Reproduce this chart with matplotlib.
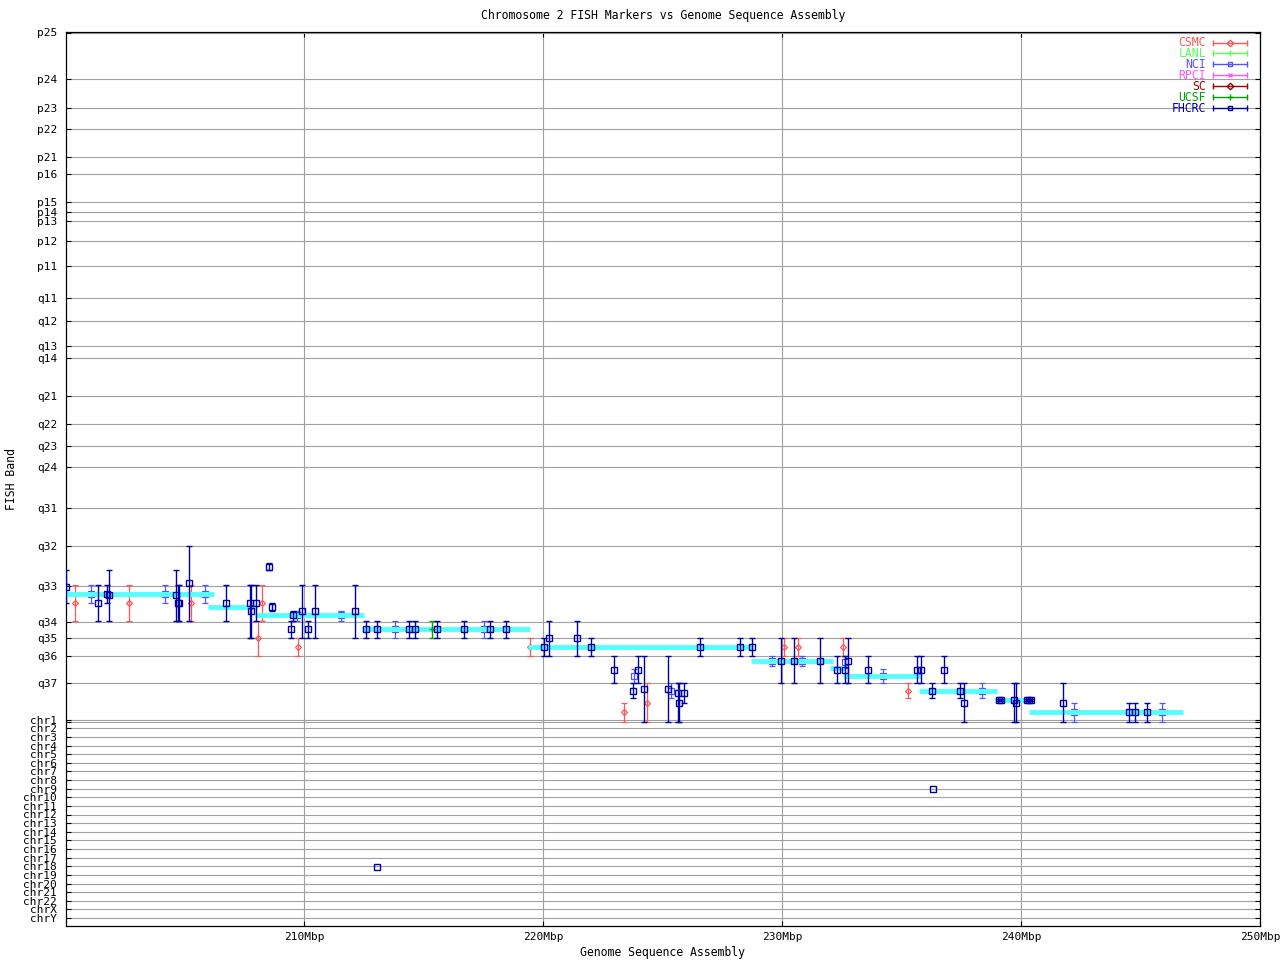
import matplotlib
matplotlib.use('Agg')
import matplotlib.pyplot as plt

# y scale: position along the chromosome 2 ideogram (pter = 0 at the top),
# other chromosomes are stacked below the q arm
band_labels = ['p25', 'p24', 'p23', 'p22', 'p21', 'p16', 'p15', 'p14', 'p13', 'p12', 'p11',
               'q11', 'q12', 'q13', 'q14', 'q21', 'q22', 'q23', 'q24', 'q31', 'q32', 'q33',
               'q34', 'q35', 'q36', 'q37', '']
band_pos = [0.5, 47, 75.5, 97, 125, 142.3, 170.3, 180.3, 189.3, 209, 233.7,
            265.7, 289, 314, 326.3, 364.3, 391.7, 414.3, 435, 476.3, 514.3, 553.5,
            589.5, 606.3, 624.3, 651.3, 690.3]
chr_labels = ['chr1', 'chr2', 'chr3', 'chr4', 'chr5', 'chr6', 'chr7', 'chr8', 'chr9', 'chr10',
              'chr11', 'chr12', 'chr13', 'chr14', 'chr15', 'chr16', 'chr17', 'chr18', 'chr19',
              'chr20', 'chr21', 'chr22', 'chrX', 'chrY']
chr_pos = [688.3, 696.3, 704.9, 713.6, 722.2, 730.8, 739.4, 748.0, 756.7, 765.3,
           773.9, 782.5, 791.1, 799.8, 808.4, 817.0, 825.6, 834.2, 842.8,
           851.5, 860.1, 868.7, 877.3, 886.0]

x_ticks = [210, 220, 230, 240, 250]
x_tick_labels = ['210Mbp', '220Mbp', '230Mbp', '240Mbp', '250Mbp']

# FHCRC markers: position (Mbp), band position, band range
fhcrc_x = [200.04, 201.35, 201.73, 201.81, 204.62, 204.69, 204.77, 205.16, 206.71, 207.71,
           207.75, 207.96, 208.51, 208.63, 209.43, 209.51, 209.89, 210.14, 210.43, 212.10,
           212.56, 213.03, 214.36, 214.62, 215.54, 216.67, 217.75, 218.42, 220.01, 220.22,
           221.39, 221.98, 222.94, 223.74, 223.95, 224.20, 225.20, 225.62, 225.66, 225.91,
           226.58, 228.25, 228.72, 229.93, 230.51, 231.59, 232.31, 232.61, 232.77, 233.61,
           235.64, 235.79, 236.29, 236.79, 237.46, 237.59, 239.09, 239.16, 239.72, 239.80,
           240.26, 240.35, 240.43, 241.77, 244.53, 244.78, 245.28]
fhcrc_y = [555.3, 571.3, 562.3, 563.3, 563.3, 571.3, 571.3, 551.3, 571.3, 571.3,
           579.3, 571.3, 535.3, 575.3, 597.3, 583.3, 579.3, 597.3, 579.3, 579.3,
           597.3, 597.3, 597.3, 597.3, 597.3, 597.3, 597.3, 597.3, 615.3, 606.3,
           606.3, 615.3, 638.3, 659.3, 638.3, 657.3, 657.3, 661.3, 671.3, 661.3,
           615.3, 615.3, 615.3, 629.3, 629.3, 629.3, 638.3, 638.3, 629.3, 638.3,
           638.3, 638.3, 659.3, 638.3, 659.3, 671.3, 668.3, 668.3, 668.3, 671.3,
           668.3, 668.3, 668.3, 671.3, 680.3, 680.3, 680.3]
fhcrc_lo = [538.3, 553.3, 553.3, 538.3, 538.3, 553.3, 553.3, 514.3, 553.3, 553.3,
            553.3, 553.3, 531.3, 571.3, 589.3, 579.3, 553.3, 589.3, 553.3, 553.3,
            589.3, 589.3, 589.3, 589.3, 589.3, 589.3, 589.3, 589.3, 606.3, 589.3,
            589.3, 606.3, 624.3, 651.3, 624.3, 624.3, 624.3, 651.3, 651.3, 651.3,
            606.3, 606.3, 606.3, 606.3, 606.3, 606.3, 624.3, 624.3, 606.3, 624.3,
            624.3, 624.3, 651.3, 624.3, 651.3, 651.3, 667.3, 667.3, 651.3, 651.3,
            667.3, 667.3, 667.3, 651.3, 671.3, 671.3, 671.3]
fhcrc_hi = [571.3, 589.3, 571.3, 589.3, 589.3, 589.3, 589.3, 589.3, 589.3, 606.3,
            606.3, 589.3, 538.3, 579.3, 606.3, 589.3, 606.3, 606.3, 606.3, 606.3,
            606.3, 606.3, 606.3, 606.3, 606.3, 606.3, 606.3, 606.3, 624.3, 624.3,
            624.3, 624.3, 651.3, 666.3, 651.3, 690.3, 690.3, 690.3, 690.3, 671.3,
            624.3, 624.3, 624.3, 651.3, 651.3, 651.3, 651.3, 651.3, 651.3, 651.3,
            651.3, 651.3, 666.3, 651.3, 666.3, 690.3, 669.3, 669.3, 690.3, 690.3,
            669.3, 669.3, 669.3, 690.3, 690.3, 690.3, 690.3]
# FHCRC hits on other chromosomes
fhcrc_other_x = [236.33, 213.05]
fhcrc_other_y = [756.7, 835.0]

csmc_x = [200.39, 202.65, 205.24, 208.05, 208.21, 209.72, 219.43, 223.36, 224.34,
          230.07, 230.66, 232.56, 235.28]
csmc_y = [571.3, 571.3, 571.3, 606.3, 571.3, 615.3, 615.3, 680.3, 671.3,
          615.3, 615.3, 615.3, 659.3]
csmc_lo = [553.3, 553.3, 553.3, 589.3, 553.3, 606.3, 606.3, 671.3, 651.3,
           606.3, 606.3, 606.3, 651.3]
csmc_hi = [589.3, 589.3, 589.3, 624.3, 589.3, 624.3, 624.3, 690.3, 690.3,
           624.3, 624.3, 624.3, 666.3]

nci_x = [201.06, 204.15, 205.83, 209.68, 211.52, 213.78, 217.50, 223.78, 225.33,
         229.59, 230.81, 232.61, 234.20, 238.38, 242.23, 245.91]
nci_y = [562.3, 562.3, 562.3, 583.3, 583.3, 597.3, 597.3, 644.3, 659.3,
         629.3, 629.3, 630.3, 644.3, 659.3, 680.3, 680.3]
nci_lo = [553.3, 553.3, 553.3, 579.3, 579.3, 589.3, 589.3, 637.3, 651.3,
          624.3, 624.3, 624.3, 637.3, 651.3, 671.3, 671.3]
nci_hi = [571.3, 571.3, 571.3, 589.3, 589.3, 606.3, 606.3, 651.3, 666.3,
          634.3, 634.3, 636.3, 651.3, 666.3, 690.3, 690.3]

ucsf_x = [215.34]
ucsf_y = [597.3]
ucsf_lo = [589.3]
ucsf_hi = [606.3]

# ideogram bands placed on the sequence assembly
band_start = [200.0, 205.95, 207.93, 212.43, 219.35, 228.70, 232.01, 232.55, 235.73, 238.92, 240.33]
band_end = [206.20, 208.02, 212.49, 219.43, 228.76, 232.11, 232.64, 235.82, 238.98, 240.38, 246.77]
band_level = [562.0, 575.0, 583.0, 597.0, 615.3, 629.3, 636.3, 644.0, 659.0, 668.0, 680.0]

# legend entries: name, colour, marker
sources = ['CSMC', 'LANL', 'NCI', 'RPCI', 'SC', 'UCSF', 'FHCRC']
colors = ['#ff5555', '#55ff55', '#5555ff', '#ff55ff', '#a00000', '#00a000', '#0000a0']
markers = ['D', '+', 's', 'x', 'D', '+', 's']

mono = 'DejaVu Sans Mono'
plt.rcParams['font.family'] = mono
plt.rcParams['font.size'] = 8

fig = plt.figure(figsize=(12.8, 9.6), dpi=100)
ax = fig.add_axes([65.5 / 1280, 34 / 960, 1194.5 / 1280, 894 / 960])


def draw_source(x, y, lo, hi, color, marker, ms, lw, z):
    yerr = [[yy - l for yy, l in zip(y, lo)], [h - yy for yy, h in zip(y, hi)]]
    ax.errorbar(x, y, yerr=yerr, fmt=marker, color=color, ms=ms, mfc='none', mec=color,
                mew=lw, elinewidth=lw, capsize=2.3, capthick=lw, zorder=z)


# light coloured sources go under the ideogram bar, dark ones on top
draw_source(csmc_x, csmc_y, csmc_lo, csmc_hi, colors[0], 'D', 3.0, 0.9, 2)
draw_source(nci_x, nci_y, nci_lo, nci_hi, colors[2], 's', 3.7, 0.9, 2)

for x0, x1, lev in zip(band_start, band_end, band_level):
    ax.plot([x0, x1], [lev, lev], color='#55ffff', lw=3.5, solid_capstyle='butt', zorder=3)

draw_source(ucsf_x, ucsf_y, ucsf_lo, ucsf_hi, colors[5], '+', 4.5, 1.0, 4)
draw_source(fhcrc_x, fhcrc_y, fhcrc_lo, fhcrc_hi, colors[6], 's', 3.8, 1.0, 4)
ax.plot(fhcrc_other_x, fhcrc_other_y, 's', color=colors[6], ms=3.8, mfc='none', mew=1.0, zorder=4)

# axes
ax.set_xlim(200, 250)
ax.set_ylim(894, 0)
ax.set_xticks(x_ticks)
ax.set_xticklabels(x_tick_labels)
ax.set_yticks(band_pos + chr_pos)
ax.set_yticklabels(band_labels + chr_labels)
ax.tick_params(direction='in', length=3.6, width=0.8, top=True, right=True, pad=4, labelsize=8)
ax.tick_params(axis='y', pad=6)
ax.grid(True, color='#a0a0a0', lw=0.8)
ax.set_axisbelow(True)
for sp in ax.spines.values():
    sp.set_linewidth(0.9)

ax.set_title('Chromosome 2 FISH Markers vs Genome Sequence Assembly', fontsize=8.3, pad=9)
ax.set_xlabel('Genome Sequence Assembly', fontsize=8.3)
ax.xaxis.set_label_coords(0.5, -0.0225)
ax.set_ylabel('FISH Band', fontsize=8.3)
ax.yaxis.set_label_coords(-0.0395, 0.5)

# legend drawn like gnuplot: right-aligned names with an errorbar sample
for i, (name, col, mk) in enumerate(zip(sources, colors, markers)):
    yy = 1 - (42.5 + 10.95 * i - 32) / 894
    ax.text(0.9548, yy, name, color=col, ha='right', va='center', fontsize=8.3,
            transform=ax.transAxes)
    ax.plot([0.9607, 0.9891], [yy, yy], color=col, lw=1.0, transform=ax.transAxes,
            clip_on=False, zorder=5)
    ax.plot([0.9607, 0.9891], [yy, yy], '|', color=col, ms=5, mew=1.0,
            transform=ax.transAxes, clip_on=False, zorder=5)
    ax.plot([0.9749], [yy], mk, color=col, ms=3.3 if mk != '+' else 4.5, mfc='none', mew=1.0,
            transform=ax.transAxes, clip_on=False, zorder=5)

fig.savefig('out.png', dpi=100)
